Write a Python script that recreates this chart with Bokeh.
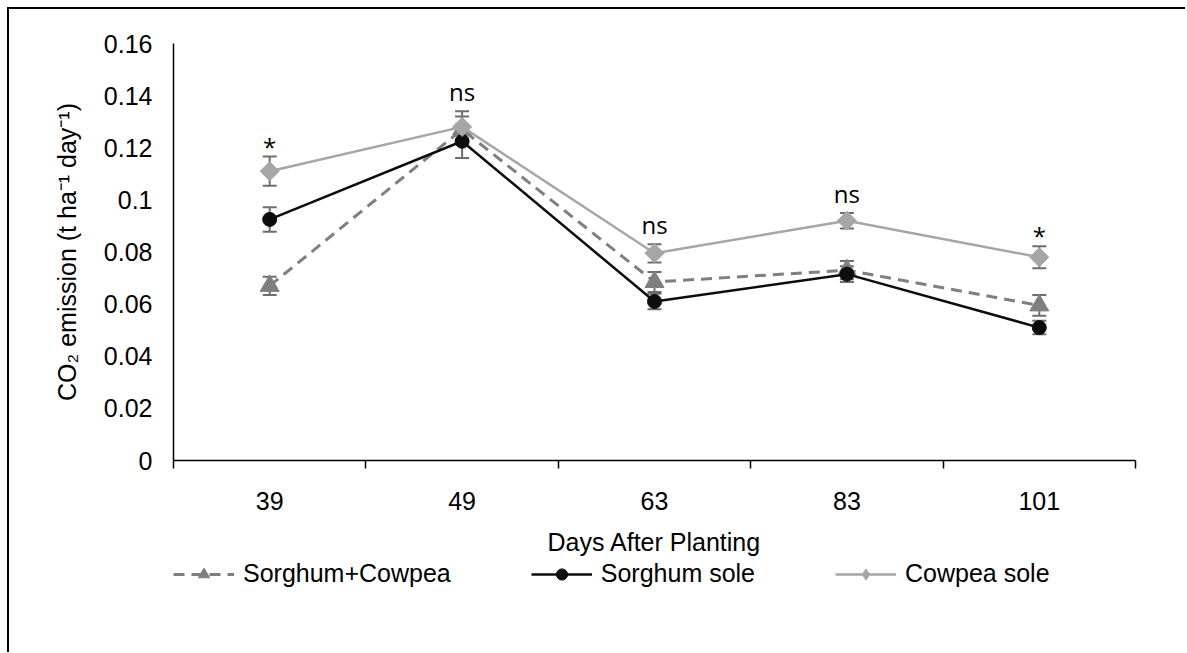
from bokeh.plotting import figure
from bokeh.layouts import column
from bokeh.models import (ColumnDataSource, Range1d, FixedTicker, PrintfTickFormatter,
                          Whisker, TeeHead, Legend, LegendItem)
from bokeh.core.properties import value
from bokeh.embed import file_html
from bokeh.resources import INLINE

# ---------------- data ----------------
days = ["39", "49", "63", "83", "101"]
sorghum_cowpea = [0.067, 0.127, 0.0685, 0.073, 0.0595]
sorghum_cowpea_err = [0.0035, 0.005, 0.0038, 0.0035, 0.004]
sorghum_sole = [0.0925, 0.1225, 0.061, 0.0715, 0.051]
sorghum_sole_err = [0.0047, 0.0064, 0.003, 0.003, 0.0026]
cowpea_sole = [0.111, 0.128, 0.0795, 0.092, 0.078]
cowpea_sole_err = [0.0056, 0.006, 0.0035, 0.003, 0.0042]
significance = ["*", "ns", "ns", "ns", "*"]
y_ticks = [0, 0.02, 0.04, 0.06, 0.08, 0.1, 0.12, 0.14, 0.16]
series_names = ["Sorghum+Cowpea", "Sorghum sole", "Cowpea sole"]
x_title = "Days After Planting"
y_title = "CO\u2082 emission (t ha\u207b\u00b9 day\u207b\u00b9)"

FONT = "Liberation Sans"
xs = list(range(1, len(days) + 1))

W = 1176
p = figure(width=W, height=551, output_backend="svg", toolbar_location=None,
           x_range=Range1d(0.5, len(days) + 0.5), y_range=Range1d(y_ticks[0], y_ticks[-1]),
           min_border_left=164, min_border_right=50, min_border_top=34, min_border_bottom=100,
           background_fill_color="white", border_fill_color="white")
p.outline_line_color = None
p.grid.grid_line_color = None

# x axis: labels at category centres, ticks between categories
p.xaxis.ticker = FixedTicker(ticks=xs, minor_ticks=[x - 0.5 for x in xs] + [xs[-1] + 0.5])
p.xaxis.major_label_overrides = {x: d for x, d in zip(xs, days)}
p.xaxis.major_tick_in = 0
p.xaxis.major_tick_out = 7
p.xaxis.minor_tick_in = 0
p.xaxis.minor_tick_out = 8
p.xaxis.minor_tick_line_color = "black"
p.xaxis.minor_tick_line_width = 1.5
p.xaxis.major_label_standoff = 23
p.xaxis.axis_label = x_title
p.xaxis.axis_label_standoff = 15

# y axis
p.yaxis.ticker = FixedTicker(ticks=y_ticks, minor_ticks=[])
p.yaxis.formatter = PrintfTickFormatter(format="%g")
p.yaxis.major_tick_in = 0
p.yaxis.major_tick_out = 7
p.yaxis.major_tick_line_width = 1.5
p.yaxis.minor_tick_line_color = None
p.yaxis.major_label_standoff = 14
p.yaxis.axis_label = y_title
p.yaxis.axis_label_standoff = 20

for ax in (p.xaxis, p.yaxis):
    ax.axis_line_color = "black"
    ax.axis_line_width = 1.5
    ax.major_tick_line_color = "black" if ax is p.yaxis else None
    ax.major_label_text_font = FONT
    ax.major_label_text_font_size = "25px"
    ax.major_label_text_color = "black"
    ax.axis_label_text_font = FONT
    ax.axis_label_text_font_size = "25px"
    ax.axis_label_text_font_style = "normal"
    ax.axis_label_text_color = "black"

src = ColumnDataSource(dict(
    x=xs,
    sc=sorghum_cowpea, sc_lo=[v - e for v, e in zip(sorghum_cowpea, sorghum_cowpea_err)],
    sc_hi=[v + e for v, e in zip(sorghum_cowpea, sorghum_cowpea_err)],
    ss=sorghum_sole, ss_lo=[v - e for v, e in zip(sorghum_sole, sorghum_sole_err)],
    ss_hi=[v + e for v, e in zip(sorghum_sole, sorghum_sole_err)],
    cs=cowpea_sole, cs_lo=[v - e for v, e in zip(cowpea_sole, cowpea_sole_err)],
    cs_hi=[v + e for v, e in zip(cowpea_sole, cowpea_sole_err)],
))

C_SC = "#7f7f7f"
C_SS = "#0d0d0d"
C_CS = "#a6a6a6"
C_ERR = "#6e6e6e"

STYLES = [
    dict(line=dict(line_color=C_SC, line_width=3, line_dash="11 7"),
         mark=dict(marker="triangle", size=19, fill_color=C_SC, line_color=C_SC),
         legend_mark=dict(marker="triangle", size=12, fill_color=C_SC, line_color=C_SC)),
    dict(line=dict(line_color=C_SS, line_width=2.5),
         mark=dict(marker="circle", size=14, fill_color=C_SS, line_color=C_SS),
         legend_mark=dict(marker="circle", size=12, fill_color=C_SS, line_color=C_SS)),
    dict(line=dict(line_color=C_CS, line_width=2.5),
         mark=dict(marker="square", angle=0.785398, size=13.5, fill_color=C_CS, line_color=C_CS),
         legend_mark=dict(marker="diamond", size=14, fill_color=C_CS, line_color=C_CS)),
]
cols = ["sc", "ss", "cs"]

for col, st in zip(cols, STYLES):
    p.line("x", col, source=src, **st["line"])
    p.scatter("x", col, source=src, **st["mark"])

for col in cols:
    w = Whisker(source=src, base="x", lower=col + "_lo", upper=col + "_hi",
                line_color=C_ERR, line_width=2,
                upper_head=TeeHead(size=14, line_color=C_ERR, line_width=2),
                lower_head=TeeHead(size=14, line_color=C_ERR, line_width=2))
    p.add_layout(w)

# significance labels above the highest error bar
tops = [max(a + ae, b + be, c + ce) for a, ae, b, be, c, ce in
        zip(sorghum_cowpea, sorghum_cowpea_err, sorghum_sole, sorghum_sole_err,
            cowpea_sole, cowpea_sole_err)]
sig_src = ColumnDataSource(dict(x=xs, y=tops, text=significance,
                                yoff=[6 if s == "*" else -3 for s in significance]))
p.text("x", "y", text="text", source=sig_src, text_align="center", text_baseline="bottom",
       y_offset="yoff", text_font=value("Open Sans"), text_font_size="24px", text_color="black")

# ---------------- legend strip below the chart ----------------
# the strip's view is set away from the data, so only the legend shows in it
H2 = 92
lg = figure(width=W, height=H2, output_backend="svg", toolbar_location=None,
            x_range=Range1d(100, 101), y_range=Range1d(100, 101),
            x_axis_location=None, y_axis_location=None,
            min_border_left=0, min_border_right=0, min_border_top=0, min_border_bottom=0,
            background_fill_color="white", border_fill_color="white")
lg.outline_line_color = None
lg.grid.grid_line_color = None

items = []
for name, col, st in zip(series_names, cols, STYLES):
    r1 = lg.line("x", col, source=src, **st["line"])
    r2 = lg.scatter("x", col, source=src, **st["legend_mark"])
    items.append(LegendItem(label=name, renderers=[r1, r2]))

legend = Legend(items=items, orientation="horizontal", location=(0, H2 - 28),
                glyph_width=61, glyph_height=28, label_standoff=9, spacing=80,
                padding=0, margin=0, border_line_color=None, background_fill_alpha=0,
                label_text_font=FONT, label_text_font_size="25px", label_text_color="black")
lg.add_layout(legend)

layout = column(p, lg, spacing=0)
layout.styles = {"border-left": "2px solid #000", "border-top": "2px solid #000",
                 "margin-left": "7px", "margin-top": "7px"}

open("out.html", "w").write(file_html(layout, INLINE))
